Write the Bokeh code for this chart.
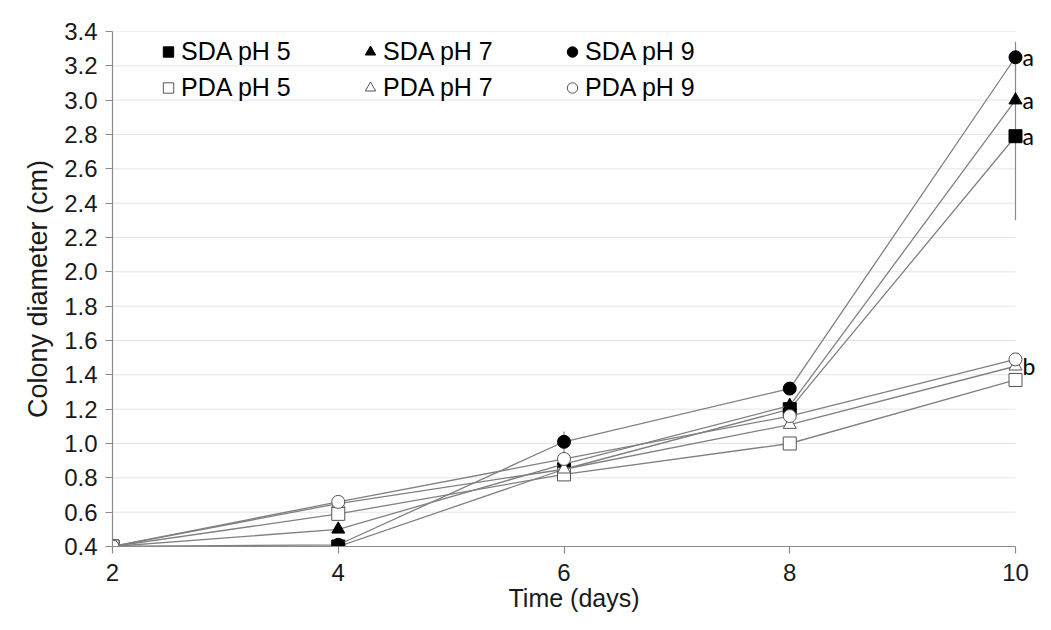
from bokeh.plotting import figure
from bokeh.models import (ColumnDataSource, FixedTicker, PrintfTickFormatter,
                          Legend, LegendItem, LabelSet)
from bokeh.core.properties import value
from bokeh.embed import file_html
from bokeh.resources import INLINE

# ---------------- data ----------------
days = [2, 4, 6, 8, 10]
sda_ph5 = [0.40, 0.40, 0.85, 1.20, 2.79]
sda_ph7 = [0.40, 0.50, 0.88, 1.22, 3.00]
sda_ph9 = [0.40, 0.41, 1.01, 1.32, 3.25]
pda_ph5 = [0.40, 0.59, 0.82, 1.00, 1.37]
pda_ph7 = [0.40, 0.65, 0.85, 1.11, 1.45]
pda_ph9 = [0.40, 0.66, 0.91, 1.16, 1.49]

sda_ph5_err = [0.0, 0.0, 0.0, 0.0, 0.49]
sda_ph9_err = [0.0, 0.0, 0.06, 0.0, 0.09]

series_names = ["SDA pH 5", "SDA pH 7", "SDA pH 9", "PDA pH 5", "PDA pH 7", "PDA pH 9"]
series_markers = ["square", "triangle", "circle", "square", "triangle", "circle"]
series_filled = [True, True, True, False, False, False]

x_ticks = [2, 4, 6, 8, 10]
y_ticks = [0.4, 0.6, 0.8, 1.0, 1.2, 1.4, 1.6, 1.8, 2.0, 2.2, 2.4, 2.6, 2.8, 3.0, 3.2, 3.4]

sig_x = [10, 10, 10, 10]
sig_y = [3.25, 3.00, 2.79, 1.45]
sig_text = ["a", "a", "a", "b"]

x_title = "Time (days)"
y_title = "Colony diameter (cm)"

# ---------------- layout ----------------
W, H = 1035, 614
LEFT, TOP, BOTTOM_PX = 112, 31, 547     # frame edges (screen px)
X10_PX = 1015                            # where day 10 sits
px_per_day = (X10_PX - LEFT) / (x_ticks[-1] - x_ticks[0])
x_end = x_ticks[-1] + (W - X10_PX) / px_per_day

FONT = "Liberation Sans"
p = figure(width=W, height=H, x_range=(x_ticks[0], x_end),
           y_range=(y_ticks[0], y_ticks[-1]),
           output_backend="svg", toolbar_location=None,
           min_border_left=LEFT, min_border_right=0,
           min_border_top=TOP, min_border_bottom=H - BOTTOM_PX)
p.outline_line_color = None
p.background_fill_color = "white"
p.xgrid.grid_line_color = None
p.ygrid.grid_line_color = None

# horizontal gridlines only across the data span
p.segment(x0=[x_ticks[0]] * (len(y_ticks) - 1), y0=y_ticks[1:],
          x1=[x_ticks[-1]] * (len(y_ticks) - 1), y1=y_ticks[1:],
          line_color="#e4e4e4", line_width=1)

for ax in (p.xaxis, p.yaxis):
    ax.axis_line_color = "#8a8a8a"
    ax.axis_line_width = 1.2
    ax.major_tick_line_color = "#8a8a8a"
    ax.major_tick_line_width = 1.2
    ax.major_tick_out = 7
    ax.major_tick_in = 0
    ax.minor_tick_line_color = None
    ax.major_label_text_font = FONT
    ax.major_label_text_font_size = "24px"
    ax.major_label_text_color = "#1a1a1a"
    ax.axis_label_text_font = FONT
    ax.axis_label_text_font_style = "normal"
    ax.axis_label_text_color = "#1a1a1a"

p.xaxis.bounds = (x_ticks[0], x_ticks[-1])
p.xaxis.ticker = FixedTicker(ticks=x_ticks)
p.yaxis.ticker = FixedTicker(ticks=y_ticks)
p.yaxis.formatter = PrintfTickFormatter(format="%.1f")
p.xaxis.major_label_standoff = 10
p.yaxis.major_label_standoff = 8

p.xaxis.axis_label = x_title
p.xaxis.axis_label_text_font_size = "25px"
p.xaxis.axis_label_standoff = 0
p.yaxis.axis_label = y_title
p.yaxis.axis_label_text_font_size = "27px"
p.yaxis.axis_label_standoff = 8

# error bars
all_series = [sda_ph5, sda_ph7, sda_ph9, pda_ph5, pda_ph7, pda_ph9]
for vals, errs in ((sda_ph5, sda_ph5_err), (sda_ph9, sda_ph9_err)):
    xs = [d for d, e in zip(days, errs) if e > 0]
    lo = [v - e for v, e in zip(vals, errs) if e > 0]
    hi = [v + e for v, e in zip(vals, errs) if e > 0]
    p.segment(x0=xs, y0=lo, x1=xs, y1=hi, line_color="#8a8a8a", line_width=1.2)

items = []
for name, vals, mk, fill in zip(series_names, all_series, series_markers, series_filled):
    src = ColumnDataSource(dict(x=days, y=vals))
    p.line("x", "y", source=src, line_color="#808080", line_width=1.3)
    r = p.scatter("x", "y", source=src, marker=mk, size=13,
                  fill_color="black" if fill else "white",
                  line_color="black" if fill else "#555555", line_width=1)
    items.append(LegendItem(label=name, renderers=[r]))

frame_h = BOTTOM_PX - TOP
legend = Legend(items=items, orientation="horizontal", ncols=3,
                location=(43, frame_h - 4.5 - 69),
                glyph_width=26, glyph_height=33, label_standoff=0,
                label_width=173, spacing=3, padding=0, margin=0,
                border_line_color=None, background_fill_alpha=0,
                label_text_font=FONT, label_text_font_size="25px",
                label_text_color="black")
p.add_layout(legend, "center")

sig_src = ColumnDataSource(dict(x=sig_x, y=sig_y, t=sig_text))
p.add_layout(LabelSet(x="x", y="y", text="t", source=sig_src, x_offset=7,
                      text_align="left", text_baseline="middle",
                      text_font=value("Lato"), text_font_size=value("23px"),
                      text_color="black"))

open("out.html", "w").write(file_html(p, INLINE))
